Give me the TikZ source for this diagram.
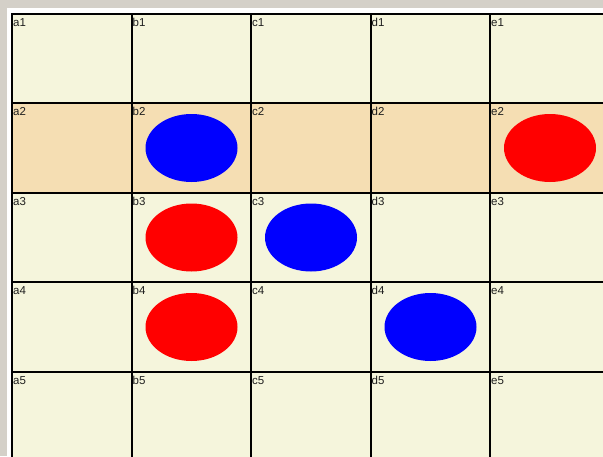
\documentclass[tikz,border=0pt]{standalone}
\usepackage{fontspec}
\setmainfont{Liberation Sans}
\usetikzlibrary{shapes.geometric}
\definecolor{cellbg}{RGB}{245,245,220}
\definecolor{rowbg}{RGB}{245,222,179}
\definecolor{framebg}{RGB}{212,208,200}
\definecolor{lbltext}{RGB}{30,30,30}
\begin{document}
\begin{tikzpicture}[x=1pt,y=-1pt,
  cell/.style={draw=black, line width=2pt, minimum width=119.5pt, minimum height=89.5pt, inner sep=0pt, anchor=north west},
  lbl/.style={anchor=base west, inner sep=0pt, text=lbltext, font=\fontsize{11.5}{13}\selectfont},
  disc/.style={ellipse, draw=none, minimum width=92pt, minimum height=68pt, inner sep=0pt},
  reddisc/.style={disc, fill=red},
  bluedisc/.style={disc, fill=blue}]
\useasboundingbox (0,0) rectangle (603,456);
\fill[framebg] (0,0) rectangle (603,456);
\fill[white] (7,8) rectangle (603,456);
\begin{scope}
\clip (0,0) rectangle (603,456);
\foreach \c [count=\i from 0] in {a,b,c,d,e} {
  \foreach \r [count=\j from 0] in {1,...,5} {
    \ifnum\r=2 \def\bg{rowbg}\else\def\bg{cellbg}\fi
    \node[cell, fill=\bg] (\c\r) at ({11+119.5*\i},{12.5+89.5*\j}) {};
  }
}
\foreach \c [count=\i from 0] in {a,b,c,d,e} {
  \foreach \r [count=\j from 0] in {1,...,5} {
    \node[lbl] (\c\r-l) at ({13+119.5*\i},{26+89.5*\j}) {\c\r};
  }
}
\node[bluedisc] (pb2) at (191.5,148) {};
\node[reddisc]  (pe2) at (550,148) {};
\node[reddisc]  (pb3) at (191.5,237.5) {};
\node[bluedisc] (pc3) at (311,237.5) {};
\node[reddisc]  (pb4) at (191.5,327) {};
\node[bluedisc] (pd4) at (430.5,327) {};
\end{scope}
\end{tikzpicture}
\end{document}
